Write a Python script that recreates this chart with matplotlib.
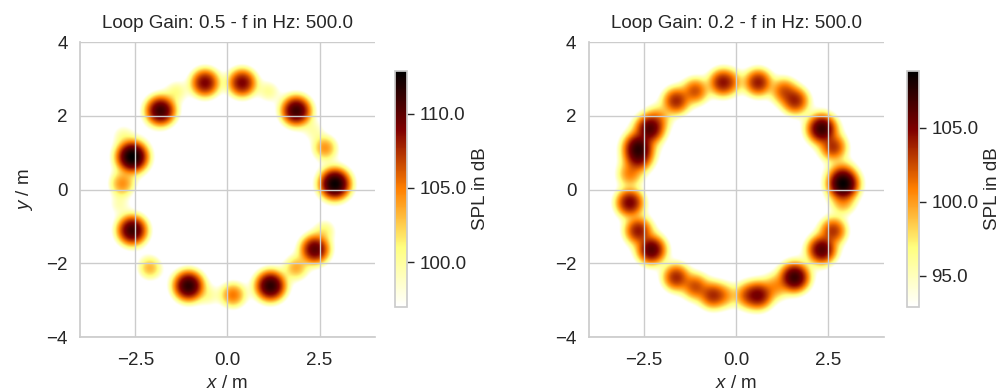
import numpy as np
import matplotlib
matplotlib.use("Agg")
import matplotlib.pyplot as plt
import seaborn as sns

# source positions (m) and peak levels (dB)
left_x = [-0.61, 0.40, -1.82, 1.87, -2.59, 2.92, -2.59, 2.38, -1.06, 1.17,
          0.15, 2.65, -2.86, -2.11, 1.87, 2.65, -1.39, 1.12,
          -2.85, -0.50, -2.95, 2.35]
left_y = [2.90, 2.90, 2.14, 2.14, 0.89, 0.15, -1.11, -1.63, -2.62, -2.62,
          -2.87, 1.13, 0.15, -2.13, -2.13, -1.11, 2.67, 2.67,
          1.50, -2.90, -0.40, 1.60]
left_level = [109.0, 109.0, 111.0, 111.0, 112.9, 112.6, 111.0, 110.0, 111.5, 111.5,
              105.0, 104.0, 104.0, 103.0, 103.0, 100.0, 99.5, 99.5,
              98.0, 98.0, 98.0, 98.0]

right_x = [-0.38, -0.10, 0.59, -1.12, -1.64, 1.29, 1.60, -2.13, -2.36, 2.32,
           -2.67, -2.67, 2.63, -2.90, 2.86, 2.90, -2.90, 2.90, -2.67, 2.63,
           -2.31, 2.32, -1.64, 1.58, -1.12, 1.06, -0.65, -0.31, 0.30, 0.61]
right_y = [2.91, 2.92, 2.91, 2.68, 2.41, 2.68, 2.41, 1.94, 1.65, 1.65,
           1.15, 0.86, 1.15, 0.41, 0.45, 0.15, -0.36, -0.36, -1.12, -1.12,
           -1.64, -1.64, -2.39, -2.39, -2.64, -2.64, -2.88, -2.88, -2.88, -2.88]
right_level = [104.0, 97.0, 104.0, 102.0, 103.5, 101.5, 103.5, 99.0, 106.0, 107.0,
               106.5, 104.0, 103.0, 100.0, 98.5, 108.5, 105.0, 98.5, 104.0, 103.0,
               106.0, 106.0, 103.5, 107.0, 102.0, 99.0, 103.0, 98.5, 101.0, 104.5]

titles = ["Loop Gain: 0.5 - f in Hz: 500.0", "Loop Gain: 0.2 - f in Hz: 500.0"]
clims = [(96.96, 112.9), (92.9, 108.85)]
cbar_ticks = [[100.0, 105.0, 110.0], [95.0, 100.0, 105.0]]

sns.set_theme(style="whitegrid")
plt.rcParams["font.family"] = ["Liberation Sans", "DejaVu Sans"]
plt.rcParams["mathtext.fontset"] = "custom"
plt.rcParams["mathtext.it"] = "Liberation Sans:italic"
plt.rcParams["mathtext.rm"] = "Liberation Sans"


def spl_field(xs, ys, levels, floor, n=400):
    # each source: narrow core plus a weak, wider skirt (intensity sum)
    g = np.linspace(-4, 4, n)
    X, Y = np.meshgrid(g, g)
    inten = np.full_like(X, 10 ** (floor / 10))
    for x0, y0, lv in zip(xs, ys, levels):
        d2 = (X - x0) ** 2 + (Y - y0) ** 2
        shape = 0.93 * np.exp(-d2 / (2 * 0.2 ** 2)) + 0.07 * np.exp(-d2 / (2 * 0.37 ** 2))
        inten += 10 ** (lv / 10) * shape
    return 10 * np.log10(inten)


fig = plt.figure(figsize=(10.03, 3.91), dpi=100)
ax_pos = [[0.0798, 0.138, 0.294, 0.754], [0.587, 0.138, 0.294, 0.754]]
cb_pos = [[0.3938, 0.2148, 0.012, 0.6036], [0.9043, 0.2148, 0.012, 0.6036]]
data = [(left_x, left_y, left_level), (right_x, right_y, right_level)]

fs = 13.5
for i in range(2):
    ax = fig.add_axes(ax_pos[i])
    cax = fig.add_axes(cb_pos[i])
    xs, ys, lv = data[i]
    vmin, vmax = clims[i]
    field = spl_field(xs, ys, lv, vmin - 10)
    im = ax.imshow(field, origin="lower", extent=[-4, 4, -4, 4], cmap="afmhot_r",
                   vmin=vmin, vmax=vmax, interpolation="bilinear", zorder=0)
    ax.set_xlim(-4, 4)
    ax.set_ylim(-4, 4)
    ax.set_xticks([-2.5, 0.0, 2.5])
    ax.set_yticks([-4, -2, 0, 2, 4])
    ax.grid(True, color="0.8", linewidth=1)
    ax.set_axisbelow(False)
    for s in ["top", "right"]:
        ax.spines[s].set_visible(False)
    for s in ["left", "bottom"]:
        ax.spines[s].set_color("0.8")
    ax.tick_params(labelsize=fs, colors="0.15", length=0)
    ax.tick_params(axis="x", pad=11)
    ax.tick_params(axis="y", pad=9)
    ax.set_title(titles[i], fontsize=fs, color="0.15", pad=10)
    ax.set_xlabel("$x$ / m", fontsize=fs, color="0.15", labelpad=4)
    if i == 0:
        ax.set_ylabel("$y$ / m", fontsize=fs, color="0.15", labelpad=8)

    cb = fig.colorbar(im, cax=cax, ticks=cbar_ticks[i], format="%.1f")
    cb.outline.set_edgecolor("0.8")
    cb.ax.tick_params(labelsize=fs, colors="0.15", length=5, width=1, right=True, pad=4)
    cb.set_label("SPL in dB", fontsize=fs, color="0.15", labelpad=4)

fig.savefig("out.png", dpi=100)
